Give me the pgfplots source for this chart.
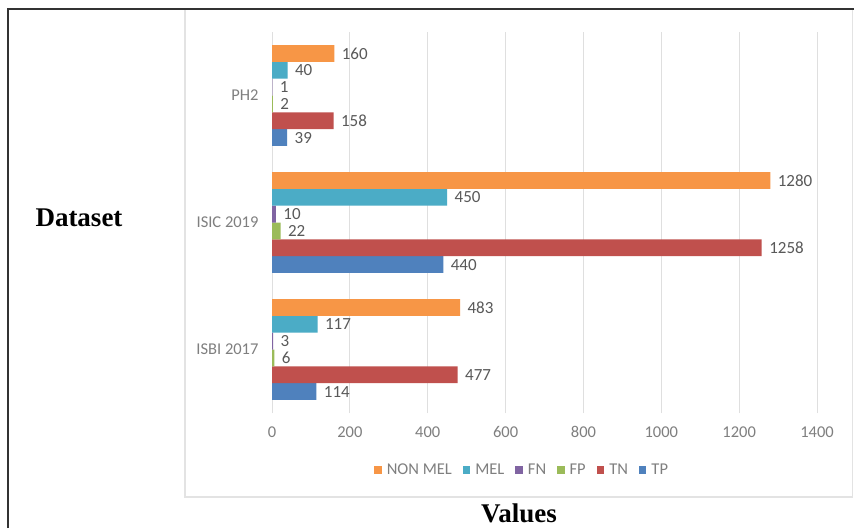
\documentclass[border=0pt]{standalone}
\usepackage{pgfplots}
\pgfplotsset{compat=1.18}
\usepackage{fontspec}
\setmainfont{Carlito}
\newfontfamily\timesfont{Liberation Serif}
\definecolor{cTP}{HTML}{4F81BD}
\definecolor{cTN}{HTML}{C0504D}
\definecolor{cFP}{HTML}{9BBB59}
\definecolor{cFN}{HTML}{8064A2}
\definecolor{cMEL}{HTML}{4BACC6}
\definecolor{cNON}{HTML}{F79646}
\definecolor{lblgray}{HTML}{595959}
\definecolor{tickgray}{HTML}{7F7F7F}
\begin{document}
\begin{tikzpicture}[x=1pt,y=1pt]
\useasboundingbox (0,0) rectangle (854,528);
\fill[white] (0,0) rectangle (854,528);
\draw[gray!22, line width=1.2pt] (185,31) rectangle (852.5,519);
\draw[black!80, line width=1.3pt] (8,0) -- (8,519) -- (854,519);
\begin{axis}[
  at={(272pt,115pt)}, anchor=south west,
  scale only axis, width=545pt, height=381pt,
  xbar=0pt, bar width=0.1325,
  xmin=0, xmax=1400, ymin=-0.5, ymax=2.5,
  ytick={0,1,2}, yticklabels={ISBI 2017, ISIC 2019, PH2},
  xtick={0,200,...,1400},
  axis line style={draw=none},
  major tick length=0pt,
  xmajorgrids, grid style={gray!25, line width=0.9pt},
  /pgf/number format/assume math mode=true,
  /pgf/number format/1000 sep={},
  ticklabel style={font=\fontsize{16.5}{16.5}\selectfont, text=tickgray},
  xticklabel style={yshift=-10pt},
  yticklabel style={xshift=-10pt},
  nodes near coords,
  every node near coord/.append style={font=\fontsize{17}{17}\selectfont, text=lblgray, xshift=4pt},
  legend columns=-1,
  reverse legend,
  legend style={at={(0.459,-0.15)}, anchor=center, draw=none, fill=none,
    font=\fontsize{16.5}{16.5}\selectfont, text=tickgray,
    /tikz/every odd column/.append style={column sep=3pt},
    /tikz/every even column/.append style={column sep=9pt},
    inner sep=0pt},
  legend image code/.code={\fill[#1] (0pt,-3.8pt) rectangle (7.5pt,3.8pt);},
]
\addplot[fill=cTP, draw=none] coordinates {(114,0) (440,1) (39,2)};
\addplot[fill=cTN, draw=none] coordinates {(477,0) (1258,1) (158,2)};
\addplot[fill=cFP, draw=none] coordinates {(6,0) (22,1) (2,2)};
\addplot[fill=cFN, draw=none] coordinates {(3,0) (10,1) (1,2)};
\addplot[fill=cMEL, draw=none] coordinates {(117,0) (450,1) (40,2)};
\addplot[fill=cNON, draw=none] coordinates {(483,0) (1280,1) (160,2)};
\legend{TP, TN, FP, FN, MEL, NON MEL}
\end{axis}
\node[font=\timesfont\bfseries\fontsize{27}{27}\selectfont] at (79,310) {Dataset};
\node[font=\timesfont\bfseries\fontsize{27}{27}\selectfont, anchor=base, inner sep=1pt] at (519,6) {Values};
\end{tikzpicture}
\end{document}
